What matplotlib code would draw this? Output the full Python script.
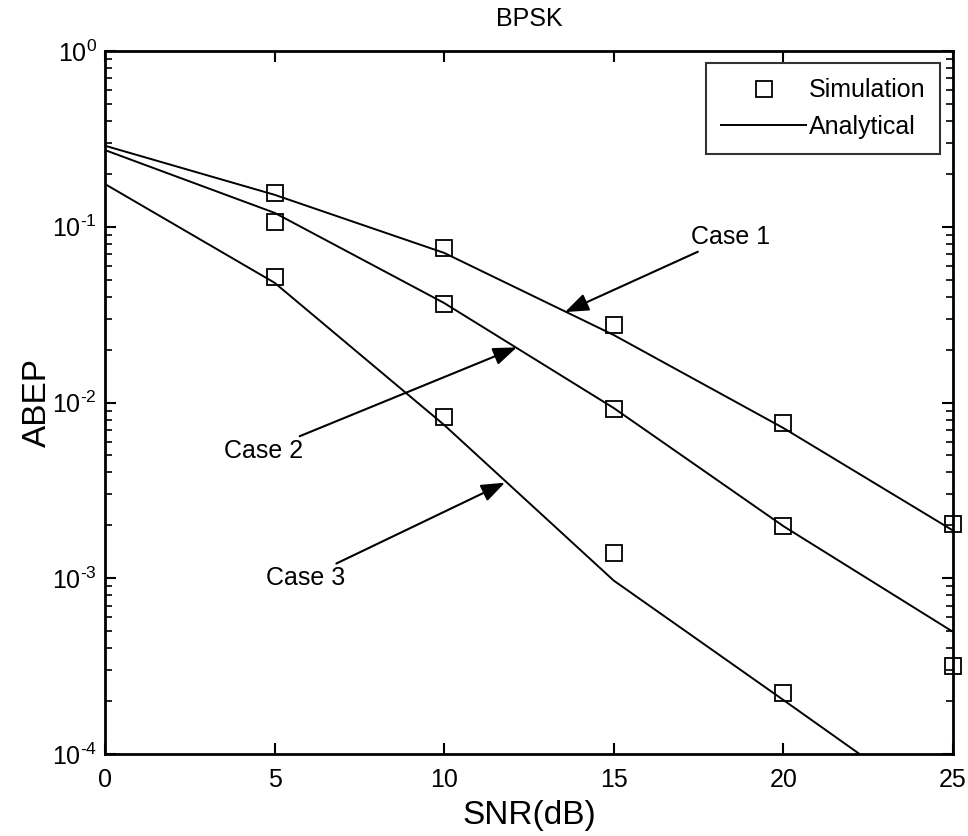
import numpy as np
import matplotlib
matplotlib.use("Agg")
import matplotlib.pyplot as plt
from matplotlib.ticker import FuncFormatter

plt.rcParams['font.family'] = ['Liberation Sans', 'DejaVu Sans']
plt.rcParams['mathtext.fontset'] = 'custom'
plt.rcParams['mathtext.rm'] = 'Liberation Sans'
plt.rcParams['mathtext.it'] = 'Liberation Sans:italic'
plt.rcParams['mathtext.bf'] = 'Liberation Sans:bold'
plt.rcParams['axes.unicode_minus'] = False

# values
snr = [0, 5, 10, 15, 20, 25]
ana_case1 = [0.289, 0.152, 0.071, 0.0242, 0.00716, 0.00187]
ana_case2 = [0.273, 0.12, 0.0368, 0.0093, 0.00198, 4.96e-4]
ana_case3 = [0.175, 0.048, 0.00745, 9.7e-4, 2.03e-4, 4.2e-5]

sim_snr = [5, 10, 15, 20, 25]
sim_case1 = [0.155, 0.0754, 0.0277, 0.00761, 0.00204]
sim_case2 = [0.107, 0.0363, 0.00922, 0.00198, 3.18e-4]
sim_snr3 = [5, 10, 15, 20]
sim_case3 = [0.0515, 0.00824, 1.39e-3, 2.24e-4]

case_labels = ['Case 1', 'Case 2', 'Case 3']
# (text position, arrow tip) in data coords
case_text = [(17.27, 0.0875), (5.84, 0.0053), (7.08, 1.0e-3)]
case_tip = [(13.56, 0.0327), (12.14, 0.0206), (11.79, 3.5e-3)]
case_ha = ['left', 'right', 'right']

fig = plt.figure(figsize=(9.68, 8.36), dpi=100)
ax = fig.add_axes([0.1085, 0.098, 0.876, 0.841])

mk = dict(linestyle='none', marker='s', markersize=11.5, markerfacecolor='none',
          markeredgecolor='black', markeredgewidth=1.3, clip_on=False, zorder=4)
sim_h, = ax.plot(sim_snr, sim_case1, **mk)
ax.plot(sim_snr, sim_case2, **mk)
ax.plot(sim_snr3, sim_case3, **mk)

ana_h, = ax.plot(snr, ana_case1, color='black', lw=1.4)
ax.plot(snr, ana_case2, color='black', lw=1.4)
ax.plot(snr, ana_case3, color='black', lw=1.4)

for lab, txt, tip, ha in zip(case_labels, case_text, case_tip, case_ha):
    ax.annotate(lab, xy=tip, xytext=txt, fontsize=18, ha=ha, va='center',
                arrowprops=dict(arrowstyle='-|>,head_length=0.8,head_width=0.3',
                                color='black', lw=1.5, shrinkA=0, shrinkB=0))

ax.set_yscale('log')
ax.set_xlim(0, 25)
ax.set_ylim(1e-4, 1)
ax.set_xticks([0, 5, 10, 15, 20, 25])
ax.yaxis.set_major_formatter(
    FuncFormatter(lambda v, _: r'$10^{\text{%d}}$' % round(np.log10(v))))

ax.tick_params(which='both', direction='in', top=True, right=True, labelsize=18,
               width=1.5)
ax.tick_params(axis='x', which='major', length=8, pad=10)
ax.tick_params(axis='y', which='major', length=8, pad=6)
ax.tick_params(axis='y', which='minor', length=5, width=1.2)
for s in ax.spines.values():
    s.set_linewidth(2)

ax.set_title('BPSK', fontsize=18, pad=18)
ax.set_xlabel('SNR(dB)', fontsize=24, labelpad=6)
ax.set_ylabel('ABEP', fontsize=24, labelpad=-1)

leg = ax.legend([sim_h, ana_h], ['Simulation', 'Analytical'], loc='upper right',
                fontsize=18, frameon=True, fancybox=False, edgecolor='black',
                handlelength=3.4, handletextpad=0.1, borderpad=0.6,
                labelspacing=0.5, borderaxespad=0.5, markerfirst=True)
leg.get_frame().set_linewidth(1.5)

fig.savefig('out.png', dpi=100)
